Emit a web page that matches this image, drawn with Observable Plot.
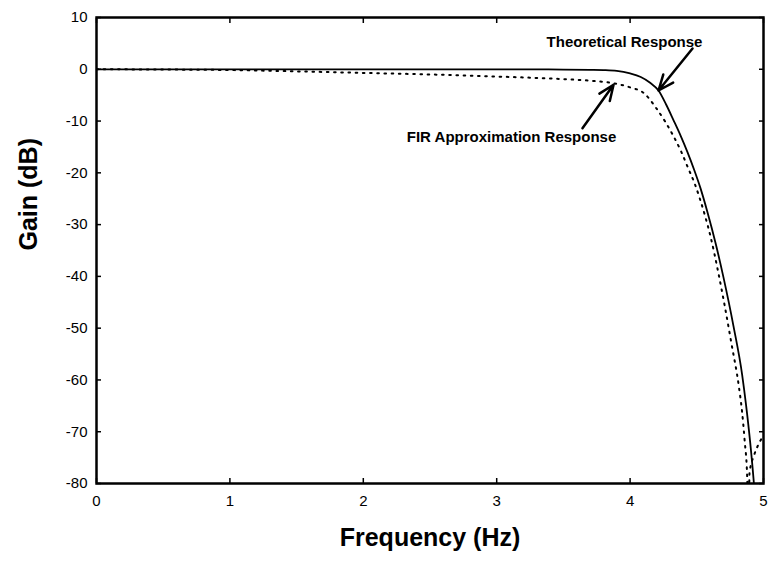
<!DOCTYPE html>
<html>
<head>
<meta charset="utf-8">
<script src="https://cdn.jsdelivr.net/npm/d3@7"></script>
<script src="https://cdn.jsdelivr.net/npm/@observablehq/plot@0.6"></script>
<style>
  html, body { margin: 0; padding: 0; background: #fff; }
  #chart svg { display: block; }
</style>
</head>
<body>
<div id="chart"></div>
<script>
// Theoretical (solid) response
const theoFreq = [0, 1, 2, 3, 3.5, 3.7, 3.8, 3.9, 4.0, 4.08, 4.15, 4.213, 4.27, 4.325, 4.38, 4.43, 4.48, 4.528, 4.58, 4.64, 4.70, 4.775, 4.84, 4.87, 4.90, 4.925, 4.94];
const theoGain = [0, 0, 0, 0, -0.05, -0.1, -0.15, -0.3, -0.8, -1.5, -2.6, -4.1, -6.8, -9.8, -12.9, -16.0, -19.4, -23.0, -27.6, -33.5, -40.2, -49.6, -59.0, -65.0, -72.0, -79.0, -84.0];

// FIR approximation (dotted) response
const firFreq = [0, 0.5, 1, 1.5, 2, 2.5, 3, 3.5, 3.7, 3.876, 4.0, 4.103, 4.19, 4.265, 4.327, 4.383, 4.432, 4.483, 4.523, 4.565, 4.603, 4.663, 4.71, 4.76, 4.815, 4.84, 4.858, 4.878, 4.887, 4.895, 4.93, 4.965, 5.0];
const firGain = [0, -0.05, -0.15, -0.4, -0.7, -1.0, -1.4, -1.9, -2.2, -2.7, -3.5, -4.6, -7.3, -10.2, -13.0, -15.9, -18.9, -22.0, -25.0, -28.6, -32.3, -39.5, -45.8, -53.0, -61.2, -66.3, -71.5, -79.0, -95, -78, -74.5, -72.3, -70.7];

// Axis ticks
const xTicks = [0, 1, 2, 3, 4, 5];
const yTicks = [10, 0, -10, -20, -30, -40, -50, -60, -70, -80];

// Annotation labels and arrows
const labelText = ["Theoretical Response", "FIR Approximation Response"];
const labelX = [3.958, 3.111];
const labelY = [5.2, -13.2];
const arrowX1 = [4.468, 3.643];
const arrowY1 = [4.0, -11.4];
const arrowX2 = [4.213, 3.876];
const arrowY2 = [-4.1, -3.0];

const theo = theoFreq.map((f, i) => ({f, g: theoGain[i]}));
const fir = firFreq.map((f, i) => ({f, g: firGain[i]}));
const labels = labelText.map((t, i) => ({t, x: labelX[i], y: labelY[i]}));
const arrows = arrowX1.map((x1, i) => ({x1, y1: arrowY1[i], x2: arrowX2[i], y2: arrowY2[i]}));

const font = "'Liberation Sans', Arial, sans-serif";
const fmt = d => String(d);

const chart = Plot.plot({
  width: 772,
  height: 570,
  marginLeft: 96,
  marginRight: 9,
  marginTop: 17,
  marginBottom: 87,
  style: {fontFamily: font, fontSize: "15px", color: "#000", background: "#fff"},
  x: {domain: [0, 5]},
  y: {domain: [-80, 10]},
  marks: [
    Plot.line(fir, {x: "f", y: "g", curve: "monotone-x", stroke: "#000", strokeWidth: 2, strokeDasharray: "1.6,5.6", strokeLinecap: "round", clip: true}),
    Plot.line(theo, {x: "f", y: "g", curve: "monotone-x", stroke: "#000", strokeWidth: 1.8, clip: true}),
    Plot.frame({stroke: "#000", strokeWidth: 2.5}),
    Plot.axisX(xTicks, {anchor: "bottom", tickSize: -5, text: null, label: null, strokeWidth: 1.5}),
    Plot.axisX(xTicks, {anchor: "top", tickSize: -5, text: null, label: null, strokeWidth: 1.5}),
    Plot.axisY(yTicks, {anchor: "left", tickSize: -5, text: null, label: null, strokeWidth: 1.5}),
    Plot.axisY(yTicks, {anchor: "right", tickSize: -5, text: null, label: null, strokeWidth: 1.5}),
    Plot.axisX(xTicks, {anchor: "bottom", tickSize: 0, tickPadding: 12, label: null, fontSize: 15, tickFormat: fmt}),
    Plot.axisY(yTicks, {anchor: "left", tickSize: 0, tickPadding: 9, label: null, fontSize: 15, tickFormat: fmt}),
    Plot.text(["Gain (dB)"], {frameAnchor: "left", dx: -68, rotate: -90, fontSize: 25, fontWeight: "bold"}),
    Plot.text(["Frequency (Hz)"], {frameAnchor: "bottom", dy: 62, fontSize: 25, fontWeight: "bold"}),
    Plot.text(labels, {x: "x", y: "y", text: "t", fontSize: 15, fontWeight: "bold"}),
    Plot.arrow(arrows, {x1: "x1", y1: "y1", x2: "x2", y2: "y2", stroke: "#000", strokeWidth: 2.5, headLength: 10, headAngle: 45})
  ]
});
document.getElementById("chart").appendChild(chart);
</script>
</body>
</html>
